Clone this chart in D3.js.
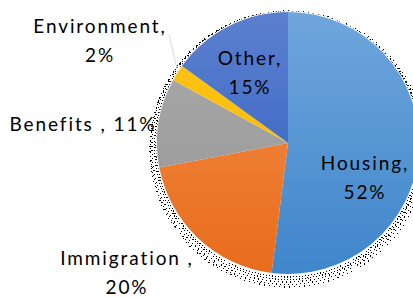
<!DOCTYPE html>
<html><head><meta charset="utf-8">
<script src="https://cdn.jsdelivr.net/npm/d3@7"></script>
<style>body{margin:0;background:#fff}svg{display:block}</style>
</head><body>
<svg id="c" width="413" height="297"></svg>
<script>
const categories = ["Housing", "Immigration", "Benefits", "Environment", "Other"];
const values = [52, 20, 11, 2, 15];
const labelLines = [["Housing,", "52%"], ["Immigration ,", "20%"], ["Benefits , 11%"], ["Environment,", "2%"], ["Other,", "15%"]];
const colorsTop = ["#6fa6dc", "#f5904a", "#ababab", "#ffc415", "#5b80cf"];
const colorsBot = ["#3f86cb", "#e86c1c", "#949494", "#f5b800", "#2c5cbc"];

const svg = d3.select("#c");
const cx = 288, cy = 143, r = 131;
const defs = svg.append("defs");

categories.forEach((c,i)=>{
  const g = defs.append("linearGradient").attr("id","g"+i)
    .attr("gradientUnits","userSpaceOnUse").attr("x1",0).attr("y1",-r).attr("x2",0).attr("y2",r);
  g.append("stop").attr("offset","0%").attr("stop-color",colorsTop[i]);
  g.append("stop").attr("offset","100%").attr("stop-color",colorsBot[i]);
});

// dithered shadow: dotted rings offset downward
const sh = svg.append("g").attr("shape-rendering","crispEdges");
[[0,2,1,"1 2"],[0,3,2.5,"1 2"],[-1,4,4,"1 3"],[-1,5,5.5,"1 3"],[0,6,7,"1 4"]].forEach(([dx,dy,dr,da])=>{
  sh.append("circle").attr("cx",cx+dx).attr("cy",cy+dy).attr("r",r+dr)
    .attr("fill","none").attr("stroke","#000").attr("stroke-width",1.2).attr("stroke-dasharray",da);
});
svg.append("circle").attr("cx",cx).attr("cy",cy).attr("r",r+1).attr("fill","#fff");

const pie = d3.pie().sort(null).value(d=>d);
const arcs = pie(values);
const arc = d3.arc().innerRadius(0).outerRadius(r);
const g = svg.append("g").attr("transform",`translate(${cx},${cy})`);
g.selectAll("path").data(arcs).join("path")
  .attr("d",arc)
  .attr("fill",(d,i)=>`url(#g${i})`);

// leader line for Environment
svg.append("line").attr("x1",169).attr("y1",35).attr("x2",177).attr("y2",68)
  .attr("stroke","#d9d9d9").attr("stroke-width",1);

const labelPos = [[365,170],[127,265],[83,131],[100,33],[250,65]];
const font = "Lato, 'Open Sans', sans-serif";
labelLines.forEach((lines,i)=>{
  const t = svg.append("text").attr("text-anchor","middle")
    .attr("font-family",font).attr("font-size",19).attr("letter-spacing",1.9).attr("fill","#000");
  lines.forEach((ln,j)=>{
    t.append("tspan").attr("x",labelPos[i][0]).attr("y",labelPos[i][1]+j*29).text(ln);
  });
});
</script>
</body></html>
